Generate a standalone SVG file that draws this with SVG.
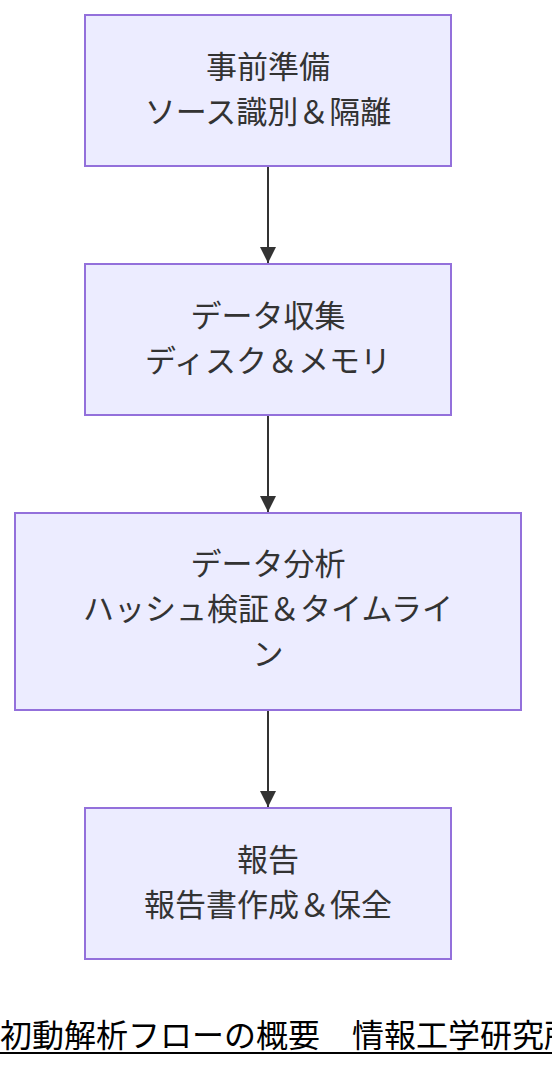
<svg xmlns="http://www.w3.org/2000/svg" width="552" height="1068" viewBox="0 0 552 1068">
<style>
.node rect{fill:#ECECFF;stroke:#9370DB;stroke-width:2}
.node text{font-family:"Liberation Sans","Noto Sans CJK JP",sans-serif;font-size:31px;fill:#333;text-anchor:middle}
.edge{stroke:#333;stroke-width:2;fill:none}
.foot{font-family:"Noto Sans CJK JP",sans-serif;font-size:32px;fill:#000}
</style>
<defs>
<marker id="arrow" viewBox="0 0 16 16" refX="16" refY="8" markerWidth="16" markerHeight="16" markerUnits="userSpaceOnUse" orient="auto">
<path d="M0,0 L16,8 L0,16 Z" fill="#333"/>
</marker>
</defs>
<rect width="552" height="1068" fill="#fff"/>
<g id="edges">
<line class="edge" x1="268" y1="166" x2="268" y2="263" marker-end="url(#arrow)"/>
<line class="edge" x1="268" y1="415" x2="268" y2="512" marker-end="url(#arrow)"/>
<line class="edge" x1="268" y1="710" x2="268" y2="807" marker-end="url(#arrow)"/>
</g>
<g id="n1" class="node">
<rect x="85" y="15" width="366" height="151"/>
<text x="268" y="78">事前準備</text>
<text x="268" y="123">ソース識別＆隔離</text>
</g>
<g id="n2" class="node">
<rect x="85" y="264" width="366" height="151"/>
<text x="268" y="327">データ収集</text>
<text x="268" y="372">ディスク＆メモリ</text>
</g>
<g id="n3" class="node">
<rect x="15" y="513" width="506" height="197"/>
<text x="268" y="575">データ分析</text>
<text x="268" y="620">ハッシュ検証＆タイムライ</text>
<text x="268" y="665">ン</text>
</g>
<g id="n4" class="node">
<rect x="85" y="808" width="366" height="151"/>
<text x="268" y="871">報告</text>
<text x="268" y="916">報告書作成＆保全</text>
</g>
<g id="footer">
<text class="foot" x="0" y="1047">初動解析フローの概要　情報工学研究所</text>
<line x1="0" y1="1053" x2="552" y2="1053" stroke="#000" stroke-width="2"/>
</g>
</svg>
